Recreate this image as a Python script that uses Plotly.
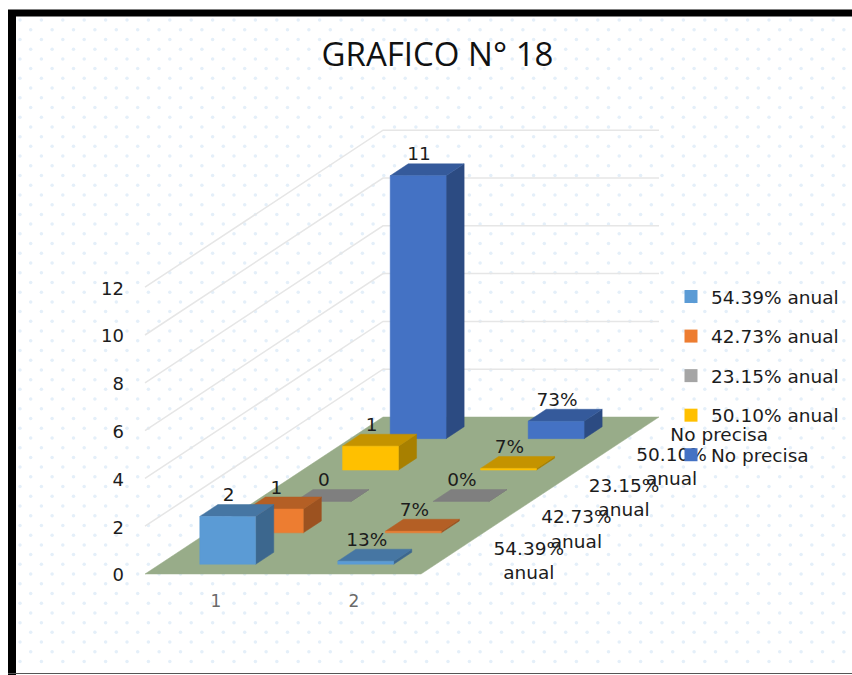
import numpy as np
import plotly.graph_objects as go

# ---- data ----
categories = ["1", "2"]
series_names = ["54.39% anual", "42.73% anual", "23.15% anual", "50.10% anual", "No precisa"]
axis_series_labels = ["54.39%<br>anual", "42.73%<br>anual", "23.15%<br>anual", "50.10%<br>anual", "No precisa"]
values_cat1 = [2, 1, 0, 1, 11]
values_cat2 = [0.13, 0.07, 0.0, 0.07, 0.73]
labels_cat1 = ["2", "1", "0", "1", "11"]
labels_cat2 = ["13%", "7%", "0%", "7%", "73%"]
value_ticks = [0, 2, 4, 6, 8, 10, 12]

# ---- styles ----
front_colors = ["#5b9bd5", "#ed7d31", "#a5a5a5", "#ffc000", "#4472c4"]
top_colors = ["#4676a3", "#b45f25", "#7f7f7f", "#c49300", "#355a9b"]
side_colors = ["#3c678e", "#9c5220", "#6f6f6f", "#a88000", "#2c4b82"]
FLOOR = "#98ac89"
GRID = "#e6e6e6"
TEXT = "#1c1c1c"
FONT = "DejaVu Sans"
TITLE_FONT = "Open Sans"

W, H = 852, 675
CAT_PX = 138.0     # px per category along the front edge
VAL_PX = 23.9      # px per value unit
ORIGIN = (145.0, 574.0)
DEPTH_PX = (47.6, 31.4)   # screen shift per series step going back

x_range = [-ORIGIN[0] / CAT_PX, (W - ORIGIN[0]) / CAT_PX]
y_range = [-(H - ORIGIN[1]) / VAL_PX, ORIGIN[1] / VAL_PX]


def project(cat, depth, value):
    """Oblique projection of (category, series depth, value) into axis units."""
    return cat + depth * DEPTH_PX[0] / CAT_PX, value + depth * DEPTH_PX[1] / VAL_PX


def px(x, y):
    return (x - ORIGIN[0]) / CAT_PX, (ORIGIN[1] - y) / VAL_PX


fig = go.Figure()


def poly(points, color, line=None):
    xs = [p[0] for p in points] + [points[0][0]]
    ys = [p[1] for p in points] + [points[0][1]]
    fig.add_trace(go.Scatter(x=xs, y=ys, mode="lines", fill="toself", fillcolor=color,
                             line=dict(width=0.5, color=color), showlegend=False, hoverinfo="skip"))


# dotted background pattern
col_x = np.arange(20, W + 10, 21.4)
row_y = np.arange(20, H - 4, 9.72)
dx, dy = [], []
for i, ry in enumerate(row_y):
    for cx in col_x:
        qx, qy = px(cx + (10.7 if i % 2 else 0), ry)
        dx.append(qx)
        dy.append(qy)
fig.add_trace(go.Scatter(x=dx, y=dy, mode="markers", showlegend=False, hoverinfo="skip",
                         marker=dict(size=3.5, color="#e4eff9", line=dict(width=0))))

# wall grid lines
n_cat, n_ser = len(categories), len(series_names)
for v in value_ticks[1:]:
    pts = [project(0, 0, v), project(0, n_ser, v), project(n_cat, n_ser, v)]
    fig.add_trace(go.Scatter(x=[p[0] for p in pts], y=[p[1] for p in pts], mode="lines",
                             line=dict(color=GRID, width=1.5), showlegend=False, hoverinfo="skip"))

# floor
poly([project(0, 0, 0), project(n_cat, 0, 0), project(n_cat, n_ser, 0), project(0, n_ser, 0)], FLOOR)

# bars, back to front
C0, C1 = 0.29, 0.695
D0, D1 = 0.31, 0.69
all_values = [values_cat1, values_cat2]
for s in range(n_ser - 1, -1, -1):
    for c in range(n_cat - 1, -1, -1):
        v = all_values[c][s]
        a, b = c + C0, c + C1
        d0, d1 = s + D0, s + D1
        poly([project(b, d0, 0), project(b, d1, 0), project(b, d1, v), project(b, d0, v)], side_colors[s])
        poly([project(a, d0, v), project(b, d0, v), project(b, d1, v), project(a, d1, v)], top_colors[s])
        if v > 0:
            poly([project(a, d0, 0), project(b, d0, 0), project(b, d0, v), project(a, d0, v)], front_colors[s])

# data labels: centred over the bar's front face, just above its back top edge
lab_x, lab_y, lab_t = [], [], []
for c, labels in enumerate([labels_cat1, labels_cat2]):
    for s, t in enumerate(labels):
        qx, _ = project(c + (C0 + C1) / 2, s + D0, all_values[c][s])
        _, qy = project(c + (C0 + C1) / 2, s + D1, all_values[c][s])
        lab_x.append(qx + 1 / CAT_PX)
        lab_y.append(qy + 8 / VAL_PX)
        lab_t.append(t)
fig.add_trace(go.Scatter(x=lab_x, y=lab_y, text=lab_t, mode="text", textposition="middle center",
                         textfont=dict(family=FONT, size=18.5, color=TEXT),
                         showlegend=False, hoverinfo="skip"))

# series-axis labels along the right floor edge
ax_x, ax_y = [], []
for s in range(n_ser):
    qx, qy = project(n_cat, s + 0.5, 0)
    ax_x.append(qx + 84 / CAT_PX)
    ax_y.append(qy - 4 / VAL_PX)
fig.add_trace(go.Scatter(x=ax_x, y=ax_y, text=axis_series_labels, mode="text",
                         textposition="middle center",
                         textfont=dict(family=FONT, size=18.5, color=TEXT),
                         showlegend=False, hoverinfo="skip"))

# legend entries
for s, name in enumerate(series_names):
    fig.add_trace(go.Scatter(x=[None], y=[None], mode="markers", name=name, legendgroup=name,
                             marker=dict(symbol="square", size=13, color=front_colors[s])))

fig.update_layout(
    width=W, height=H, autosize=False,
    margin=dict(l=0, r=0, t=0, b=0),
    paper_bgcolor="white", plot_bgcolor="rgba(0,0,0,0)",
    title=dict(text="GRAFICO N° 18", x=437.5 / W, xanchor="center", y=1 - 54 / H, yanchor="middle",
               font=dict(family=TITLE_FONT, size=33, color="#111111")),
    xaxis=dict(range=x_range, anchor="free", position=(H - 589) / H,
               tickvals=[0.5, 1.5], ticktext=categories, showgrid=False, zeroline=False,
               showline=False, ticks="", ticklabelshift=2,
               tickfont=dict(family=FONT, size=17, color="#6a6a6a")),
    yaxis=dict(range=y_range, anchor="free", position=124 / W,
               tickvals=value_ticks, ticktext=[str(v) for v in value_ticks], showgrid=False,
               zeroline=False, showline=False, ticks="", ticklabelshift=1,
               tickfont=dict(family=FONT, size=18, color=TEXT)),
    legend=dict(x=671 / W, xanchor="left", y=1 - 278 / H, yanchor="top", bgcolor="rgba(0,0,0,0)",
                tracegroupgap=12.5, font=dict(family=FONT, size=18.5, color=TEXT),
                traceorder="grouped", itemclick=False, itemdoubleclick=False),
    shapes=[
        dict(type="line", xref="paper", yref="paper", x0=12 / W, x1=12 / W, y0=0, y1=1 - 10 / H,
             line=dict(color="black", width=8)),
        dict(type="line", xref="paper", yref="paper", x0=8 / W, x1=1, y0=1 - 13 / H, y1=1 - 13 / H,
             line=dict(color="black", width=7)),
        dict(type="line", xref="paper", yref="paper", x0=8 / W, x1=1, y0=1 - 673.5 / H, y1=1 - 673.5 / H,
             line=dict(color="#555555", width=1)),
    ],
)

fig.write_html("out.html", post_script="document.body.style.margin='0';",
               config=dict(displayModeBar=False))
